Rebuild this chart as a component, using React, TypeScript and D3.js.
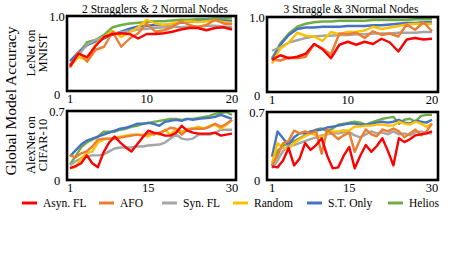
import * as d3 from "d3";

const methods = ["Asyn. FL", "AFO", "Syn. FL", "Random", "S.T. Only", "Helios"];
const colors = ["#ff0000", "#ed7d31", "#a5a5a5", "#ffc000", "#4472c4", "#70ad47"];

// LeNet on MNIST, 2 stragglers & 2 normal nodes (rounds 1..20)
const mnist2Asyn = [0.33, 0.5, 0.45, 0.6, 0.72, 0.76, 0.77, 0.76, 0.7, 0.76, 0.76, 0.77, 0.79, 0.82, 0.84, 0.84, 0.81, 0.84, 0.85, 0.82];
const mnist2Afo = [0.31, 0.52, 0.39, 0.55, 0.59, 0.79, 0.59, 0.7, 0.77, 0.9, 0.79, 0.81, 0.85, 0.93, 0.88, 0.85, 0.88, 0.95, 0.9, 0.89];
const mnist2Syn = [0.35, 0.48, 0.62, 0.68, 0.72, 0.76, 0.78, 0.8, 0.82, 0.83, 0.84, 0.85, 0.86, 0.85, 0.86, 0.86, 0.87, 0.87, 0.86, 0.85];
const mnist2Random = [0.33, 0.45, 0.42, 0.62, 0.72, 0.8, 0.72, 0.78, 0.85, 0.95, 0.9, 0.88, 0.9, 0.92, 0.93, 0.92, 0.93, 0.94, 0.92, 0.91];
const mnist2St = [0.4, 0.52, 0.61, 0.66, 0.7, 0.75, 0.79, 0.83, 0.86, 0.87, 0.88, 0.88, 0.89, 0.91, 0.92, 0.93, 0.94, 0.94, 0.94, 0.93];
const mnist2Helios = [0.35, 0.5, 0.65, 0.68, 0.75, 0.85, 0.88, 0.9, 0.91, 0.92, 0.93, 0.93, 0.94, 0.95, 0.95, 0.96, 0.96, 0.97, 0.97, 0.97];

// LeNet on MNIST, 3 stragglers & 3 normal nodes
const mnist3Asyn = [0.43, 0.49, 0.45, 0.47, 0.51, 0.64, 0.57, 0.45, 0.63, 0.67, 0.63, 0.67, 0.64, 0.71, 0.66, 0.54, 0.7, 0.72, 0.7, 0.71];
const mnist3Afo = [0.43, 0.42, 0.46, 0.45, 0.47, 0.64, 0.58, 0.5, 0.78, 0.77, 0.79, 0.72, 0.81, 0.76, 0.78, 0.74, 0.9, 0.83, 0.93, 0.81];
const mnist3Syn = [0.55, 0.6, 0.66, 0.69, 0.72, 0.74, 0.75, 0.75, 0.76, 0.76, 0.77, 0.77, 0.78, 0.78, 0.78, 0.79, 0.79, 0.79, 0.8, 0.8];
const mnist3Random = [0.38, 0.58, 0.66, 0.79, 0.75, 0.74, 0.68, 0.8, 0.77, 0.8, 0.8, 0.82, 0.87, 0.84, 0.86, 0.88, 0.9, 0.91, 0.91, 0.91];
const mnist3St = [0.43, 0.63, 0.76, 0.84, 0.86, 0.86, 0.87, 0.87, 0.87, 0.88, 0.88, 0.88, 0.89, 0.89, 0.9, 0.91, 0.92, 0.92, 0.93, 0.93];
const mnist3Helios = [0.45, 0.65, 0.78, 0.87, 0.91, 0.93, 0.94, 0.94, 0.95, 0.95, 0.95, 0.95, 0.96, 0.96, 0.96, 0.96, 0.96, 0.97, 0.97, 0.97];

// AlexNet on CIFAR-10, 2 stragglers & 2 normal nodes (rounds 1..30)
const cifar2Asyn = [0.12, 0.14, 0.17, 0.25, 0.17, 0.13, 0.28, 0.38, 0.44, 0.38, 0.33, 0.29, 0.36, 0.43, 0.5, 0.48, 0.47, 0.45, 0.45, 0.48, 0.55, 0.5, 0.48, 0.47, 0.47, 0.47, 0.48, 0.45, 0.46, 0.47];
const cifar2Afo = [0.25, 0.23, 0.27, 0.29, 0.34, 0.41, 0.42, 0.42, 0.42, 0.43, 0.44, 0.45, 0.46, 0.45, 0.47, 0.46, 0.48, 0.5, 0.53, 0.52, 0.46, 0.51, 0.52, 0.52, 0.52, 0.54, 0.57, 0.54, 0.57, 0.61];
const cifar2Syn = [0.15, 0.19, 0.22, 0.24, 0.25, 0.25, 0.26, 0.29, 0.32, 0.33, 0.33, 0.33, 0.34, 0.34, 0.35, 0.355, 0.36, 0.38, 0.42, 0.46, 0.42, 0.41, 0.42, 0.46, 0.46, 0.46, 0.48, 0.51, 0.51, 0.51];
const cifar2Random = [0.12, 0.13, 0.22, 0.27, 0.29, 0.38, 0.41, 0.42, 0.43, 0.44, 0.45, 0.46, 0.46, 0.46, 0.44, 0.48, 0.46, 0.51, 0.46, 0.51, 0.49, 0.52, 0.52, 0.54, 0.52, 0.55, 0.56, 0.52, 0.56, 0.61];
const cifar2St = [0.24, 0.3, 0.36, 0.4, 0.42, 0.44, 0.46, 0.48, 0.5, 0.52, 0.53, 0.55, 0.57, 0.57, 0.58, 0.57, 0.55, 0.59, 0.6, 0.61, 0.6, 0.62, 0.61, 0.62, 0.625, 0.63, 0.64, 0.66, 0.64, 0.62];
const cifar2Helios = [0.16, 0.24, 0.33, 0.38, 0.41, 0.44, 0.49, 0.49, 0.49, 0.51, 0.52, 0.54, 0.55, 0.57, 0.58, 0.59, 0.6, 0.61, 0.62, 0.62, 0.61, 0.62, 0.62, 0.63, 0.64, 0.65, 0.67, 0.68, 0.69, 0.66];

// AlexNet on CIFAR-10, 3 stragglers & 3 normal nodes
const cifar3Asyn = [0.14, 0.13, 0.2, 0.33, 0.15, 0.22, 0.38, 0.31, 0.36, 0.43, 0.25, 0.12, 0.13, 0.25, 0.34, 0.12, 0.25, 0.36, 0.29, 0.35, 0.43, 0.3, 0.15, 0.43, 0.39, 0.42, 0.46, 0.47, 0.48, 0.5];
const cifar3Afo = [0.15, 0.25, 0.38, 0.4, 0.51, 0.48, 0.5, 0.48, 0.5, 0.27, 0.52, 0.47, 0.42, 0.46, 0.49, 0.29, 0.42, 0.52, 0.47, 0.45, 0.52, 0.5, 0.53, 0.5, 0.44, 0.48, 0.52, 0.46, 0.5, 0.58];
const cifar3Syn = [0.12, 0.2, 0.3, 0.35, 0.36, 0.38, 0.4, 0.42, 0.44, 0.46, 0.47, 0.48, 0.48, 0.49, 0.49, 0.46, 0.44, 0.47, 0.5, 0.48, 0.49, 0.47, 0.5, 0.47, 0.48, 0.46, 0.49, 0.5, 0.48, 0.48];
const cifar3Random = [0.17, 0.38, 0.33, 0.32, 0.38, 0.42, 0.45, 0.48, 0.46, 0.44, 0.48, 0.5, 0.5, 0.51, 0.51, 0.55, 0.55, 0.56, 0.56, 0.57, 0.57, 0.56, 0.56, 0.6, 0.58, 0.57, 0.6, 0.58, 0.55, 0.58];
const cifar3St = [0.24, 0.5, 0.43, 0.36, 0.44, 0.48, 0.48, 0.5, 0.51, 0.52, 0.54, 0.55, 0.56, 0.57, 0.58, 0.58, 0.57, 0.57, 0.58, 0.59, 0.6, 0.59, 0.6, 0.62, 0.59, 0.58, 0.61, 0.6, 0.59, 0.62];
const cifar3Helios = [0.14, 0.3, 0.35, 0.38, 0.4, 0.43, 0.46, 0.49, 0.52, 0.53, 0.5, 0.53, 0.57, 0.58, 0.59, 0.6, 0.59, 0.57, 0.59, 0.61, 0.63, 0.64, 0.65, 0.58, 0.62, 0.63, 0.6, 0.66, 0.67, 0.67];

const titles = ["2 Stragglers & 2 Normal Nodes", "3 Straggle & 3Normal Nodes"];
const rowLabels = [["LeNet on", "MNIST"], ["AlexNet on", "CIFAR-10"]];
const xTicksMnist = [1, 10, 20];
const xTicksCifar = [1, 15, 30];
const yTicksMnist = [0, 1.0];
const yTicksCifar = [0, 0.7];

const panels = [
  { series: [mnist2Asyn, mnist2Afo, mnist2Syn, mnist2Random, mnist2St, mnist2Helios], xTicks: xTicksMnist, yTicks: yTicksMnist, box: [67, 16, 236, 91], xr: [70, 232] },
  { series: [mnist3Asyn, mnist3Afo, mnist3Syn, mnist3Random, mnist3St, mnist3Helios], xTicks: xTicksMnist, yTicks: yTicksMnist, box: [267, 17, 438, 92], xr: [272, 432] },
  { series: [cifar2Asyn, cifar2Afo, cifar2Syn, cifar2Random, cifar2St, cifar2Helios], xTicks: xTicksCifar, yTicks: yTicksCifar, box: [67, 111, 236, 180], xr: [70, 232] },
  { series: [cifar3Asyn, cifar3Afo, cifar3Syn, cifar3Random, cifar3St, cifar3Helios], xTicks: xTicksCifar, yTicks: yTicksCifar, box: [267, 112, 438, 180], xr: [272, 432] },
];

// drawing order: Helios at the bottom, Asyn. FL on top
const drawOrder = [5, 4, 2, 3, 1, 0];
const legendX = [22, 99, 162, 233, 307, 388];
const font = "Liberation Serif, Times New Roman, serif";

function Panel({ p }: { p: (typeof panels)[number] }) {
  const [x0, y0, x1, y1] = p.box;
  const n = p.series[0].length;
  const x = d3.scaleLinear().domain([1, n]).range(p.xr);
  const y = d3.scaleLinear().domain([0, p.yTicks[1]]).range([y1, y0]);
  const line = d3
    .line<number>()
    .x((_, i) => x(i + 1))
    .y((d) => y(d));
  return (
    <g>
      {drawOrder.map((k) => (
        <path key={k} d={line(p.series[k]) ?? ""} fill="none" stroke={colors[k]} strokeWidth={2.4} strokeLinejoin="round" />
      ))}
      <rect x={x0} y={y0} width={x1 - x0} height={y1 - y0} fill="none" stroke="#000" strokeWidth={2.6} />
      {p.yTicks.map((t) => (
        <text key={t} x={x0 - 10} y={y(t) + (t === 0 && y0 < 50 ? 8 : 5)} textAnchor="middle" fontSize={12.5}>
          {t === 0 ? "0" : d3.format(".1f")(t)}
        </text>
      ))}
      {p.xTicks.map((t) => (
        <text key={t} x={x(t)} y={y1 + 12} textAnchor="middle" fontSize={12.5}>
          {t}
        </text>
      ))}
    </g>
  );
}

export default function App() {
  return (
    <svg width={456} height={277} style={{ position: "absolute", left: 0, top: 0, background: "#fff", fontFamily: font }}>
      <text x={155} y={13} textAnchor="middle" fontSize={11.5}>{titles[0]}</text>
      <text x={351} y={13} textAnchor="middle" fontSize={11.5}>{titles[1]}</text>
      <text transform="translate(16,101) rotate(-90)" textAnchor="middle" fontSize={15.5}>Global Model Accuracy</text>
      {rowLabels.map((lab, r) => (
        <g key={r}>
          <text transform={`translate(35,${r === 0 ? 53 : 145}) rotate(-90)`} textAnchor="middle" fontSize={12.5}>{lab[0]}</text>
          <text transform={`translate(47,${r === 0 ? 53 : 145}) rotate(-90)`} textAnchor="middle" fontSize={12.5}>{lab[1]}</text>
        </g>
      ))}
      {panels.map((p, i) => (
        <Panel key={i} p={p} />
      ))}
      {methods.map((m, i) => (
        <g key={m}>
          <line x1={legendX[i]} x2={legendX[i] + 15} y1={203} y2={203} stroke={colors[i]} strokeWidth={3} />
          <text x={legendX[i] + 21} y={207} fontSize={11.5}>{m}</text>
        </g>
      ))}
    </svg>
  );
}
